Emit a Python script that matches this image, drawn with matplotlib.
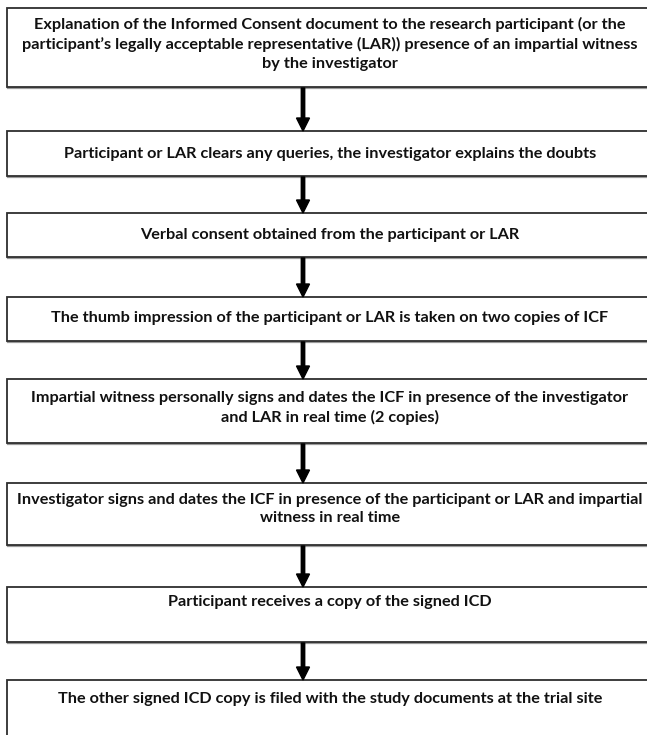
import matplotlib
matplotlib.use("Agg")
import matplotlib.pyplot as plt
from matplotlib.patches import Rectangle

# ---- content ----
steps = [
    "Explanation of the Informed Consent document to the research participant (or the\n"
    "participant\u2019s legally acceptable representative (LAR)) presence of an impartial witness\n"
    "by the investigator",
    "Participant or LAR clears any queries, the investigator explains the doubts",
    "Verbal consent obtained from the participant or LAR",
    "The thumb impression of the participant or LAR is taken on two copies of ICF",
    "Impartial witness personally signs and dates the ICF in presence of the investigator\n"
    "and LAR in real time (2 copies)",
    "Investigator signs and dates the ICF in presence of the participant or LAR and impartial\n"
    "witness in real time",
    "Participant receives a copy of the signed ICD",
    "The other signed ICD copy is filed with the study documents at the trial site",
]

# ---- layout (pixels, y downward) ----
W, H = 647, 735
box_top = [8, 131, 213, 297, 379, 483, 587, 680]
box_bot = [87, 176, 257, 341, 443, 545, 642, 760]
text_y = [44, 154, 235, 318, 408, 509, 602, 699]
box_left, box_right = 7, 654
arrow_x = 303

fig = plt.figure(figsize=(W / 100, H / 100), dpi=100)
ax = fig.add_axes([0, 0, 1, 1])
ax.set_xlim(0, W)
ax.set_ylim(H, 0)
ax.axis("off")

for i, txt in enumerate(steps):
    t, b = box_top[i], box_bot[i]
    # soft shadow
    ax.add_patch(Rectangle((box_left + 1.2, t + 1.2), box_right - box_left, b - t,
                           fill=False, ec="#9a9a9a", lw=1.6, zorder=1))
    ax.add_patch(Rectangle((box_left, t), box_right - box_left, b - t,
                           fc="white", ec="#2e2e2e", lw=1.3, zorder=2))
    ax.text(330, text_y[i], txt, ha="center", va="center", fontsize=11.7,
            fontweight="bold", family="Lato", linespacing=1.42, color="#111111", zorder=3)
    if i < len(steps) - 1:
        y0 = b + 1
        y1 = box_top[i + 1]
        ax.arrow(arrow_x, y0, 0, y1 - y0, width=3.4, head_width=13, head_length=13,
                 length_includes_head=True, fc="black", ec="black", zorder=4)

fig.savefig("out.png", dpi=100)
